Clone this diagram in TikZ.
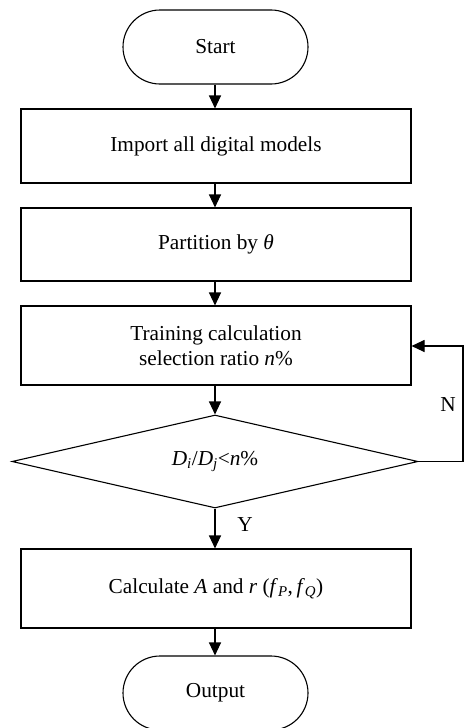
\documentclass[tikz,border=0pt]{standalone}
\usepackage{fontspec}
\setmainfont{Liberation Serif}
\usetikzlibrary{arrows.meta,shapes.geometric}
\begin{document}
\begin{tikzpicture}[x=1pt,y=-1pt,
  every node/.style={font=\fontsize{21.3}{25}\selectfont},
  term/.style={draw,line width=1.1pt,rectangle,rounded corners=37pt,minimum width=185pt,minimum height=74pt,inner sep=0pt},
  procbox/.style={draw,line width=1.1pt,rectangle,minimum width=390pt,inner sep=0pt,align=center},
  decis/.style={draw,line width=1.1pt,diamond,aspect=4.37,minimum width=406pt,minimum height=93pt,inner sep=0pt},
  conn/.style={line width=1.1pt,-{Triangle[length=13pt,width=12pt]}},
  lbl/.style={inner sep=0pt}]
\useasboundingbox (0,0) rectangle (464,728);
\node[term] (start) at (215.5,47) {Start};
\node[procbox,minimum height=74pt] (b1) at (216,146) {Import all digital models};
\node[procbox,minimum height=73pt] (b2) at (216,244.5) {Partition by \textit{θ}};
\node[procbox,minimum height=79pt] (b3) at (216,345.5) {Training calculation\\selection ratio \textit{n}\%};
\node[decis] (d) at (215,461.5) {\textit{D}\textsubscript{\textit{i}}/\textit{D}\textsubscript{\textit{j}}<\textit{n}\%};
\node[procbox,minimum height=79pt] (b4) at (216,588.5) {Calculate \textit{A} and \textit{r} (\textit{f}\textsubscript{\textit{P}},\,\textit{f}\textsubscript{\textit{Q}})};
\node[term] (out) at (215.5,693) {Output};
\coordinate (c1) at (463,461.5);
\coordinate (c2) at (463,346);
\draw[conn] (start.south -| 215,0) -- (b1.north -| 215,0);
\draw[conn] (b1.south -| 215,0) -- (b2.north -| 215,0);
\draw[conn] (b2.south -| 215,0) -- (b3.north -| 215,0);
\draw[conn] (b3.south -| 215,0) -- (d.north);
\draw[conn] (d.south) -- (b4.north -| 215,0);
\draw[conn] (b4.south -| 215,0) -- (out.north -| 215,0);
\draw[conn] (d.east) -- (c1) -- (c2) -- (b3.east |- c2);
\node[lbl] (n) at (448,405) {N};
\node[lbl] (y) at (245,525) {Y};
\end{tikzpicture}
\end{document}
